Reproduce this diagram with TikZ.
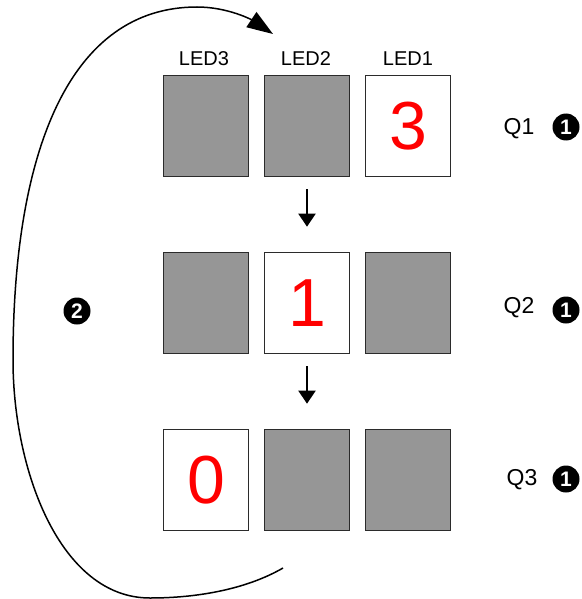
\documentclass[tikz,border=0pt]{standalone}
\usepackage{fontspec}
\setmainfont{Liberation Sans}
\usetikzlibrary{arrows.meta}
\definecolor{ledoff}{HTML}{969696}
\definecolor{edgegray}{HTML}{2B2B2B}

\begin{document}
\begin{tikzpicture}[x=1pt, y=-1pt,
  led/.style={draw=edgegray, line width=1.6pt, minimum width=85pt, minimum height=101pt, inner sep=0pt},
  off/.style={led, fill=ledoff},
  on/.style={led, fill=white, text=red, font=\fontsize{68}{68}\selectfont},
  ledname/.style={font=\fontsize{20}{20}\selectfont},
  qname/.style={font=\fontsize{23}{23}\selectfont},
  badge/.style={circle, fill=black, text=white, inner sep=0pt, minimum size=27pt,
    font=\bfseries\fontsize{21}{21}\selectfont},
  shiftarrow/.style={line width=2pt, -{Triangle[length=13pt, width=17pt]}, shorten <=12pt, shorten >=25pt}]
  \useasboundingbox (0,0) rectangle (581,599);
  \node[ledname] (name3) at (204,59) {LED3};
  \node[ledname] (name2) at (306,59) {LED2};
  \node[ledname] (name1) at (408,59) {LED1};
  % Q1
  \node[off] (q1led3) at (206,126) {};
  \node[off] (q1led2) at (307,126) {};
  \node[on] (q1led1) at (408,126) {3};
  \node[qname] (q1) at (519,129) {Q1};
  \node[badge] (q1badge) at (566,127) {1};
  % Q2
  \node[off] (q2led3) at (206,303) {};
  \node[on] (q2led2) at (307,303) {1};
  \node[off] (q2led1) at (408,303) {};
  \node[qname] (q2) at (519,308) {Q2};
  \node[badge] (q2badge) at (566,310) {1};
  % Q3
  \node[on] (q3led3) at (206,480) {0};
  \node[off] (q3led2) at (307,480) {};
  \node[off] (q3led1) at (408,480) {};
  \node[qname] (q3) at (522,480) {Q3};
  \node[badge] (q3badge) at (566,479) {1};
  \node[badge] (back) at (77,311) {2};
  \draw[shiftarrow] (q1led2) -- (q2led2);
  \draw[shiftarrow] (q2led2) -- (q3led2);
  % loop back to the top
  \coordinate (loopstart) at (283,568);
  \coordinate (looptip) at (273,34);
  \draw[line width=1.5pt, -{Triangle[length=26pt, width=18pt]}]
    (loopstart) .. controls (245,590) and (195,598) .. (150,598)
    .. controls (60,598) and (13,470) .. (13,360)
    .. controls (13,150) and (70,7) .. (197,7)
    .. controls (228,7) and (252,20) .. (looptip);
\end{tikzpicture}
\end{document}
